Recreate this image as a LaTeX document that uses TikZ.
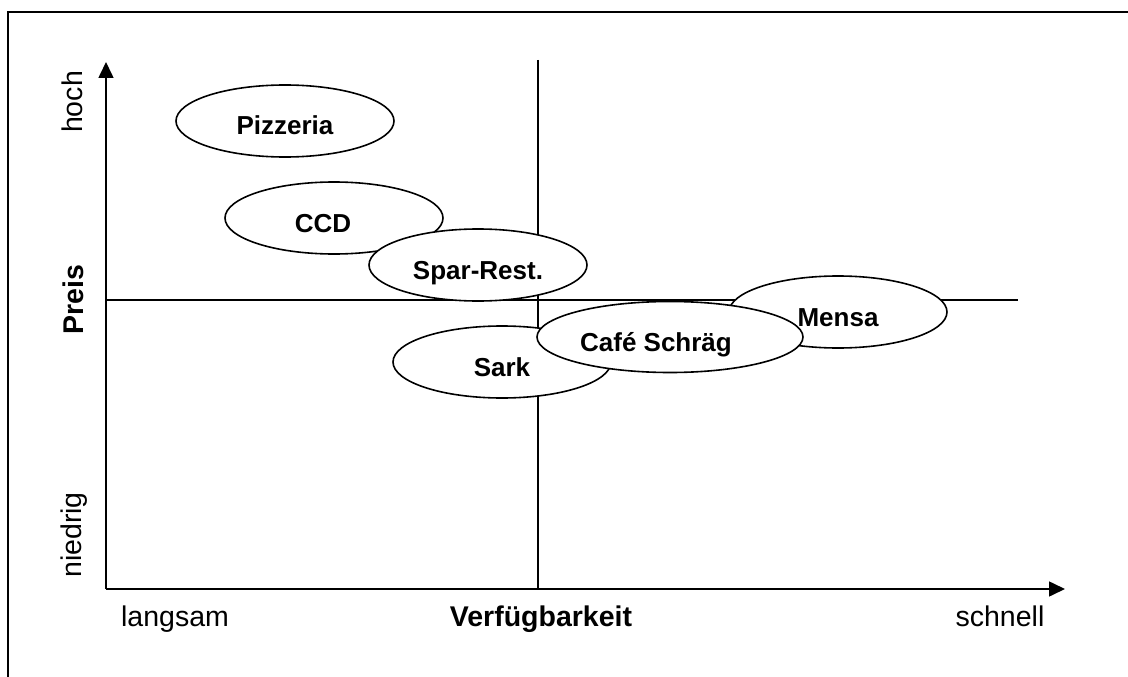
\documentclass[tikz,border=0pt]{standalone}
\usepackage{fontspec}
\setmainfont{Liberation Sans}
\usetikzlibrary{shapes.geometric,arrows.meta}

\begin{document}
\begin{tikzpicture}[x=1pt,y=-1pt,line width=1.6pt,
		blob/.style={ellipse,draw,fill=white,inner sep=0pt,minimum width=218pt,minimum height=72pt,
			font=\fontsize{26}{30}\selectfont\bfseries,text height=28pt,text depth=0pt},
		axlbl/.style={font=\fontsize{28.5}{34}\selectfont,anchor=base}]
	\useasboundingbox (0,0) rectangle (1128,677);
	% frame, only top and left edge are in the picture
	\draw (8,677) -- (8,12) -- (1128,12);
	\coordinate (o) at (106,589);
	\coordinate (ytop) at (106,62);
	\coordinate (xend) at (1065,589);
	\coordinate (midtop) at (538,60);
	\coordinate (midbot) at (538,589);
	\coordinate (hleft) at (106,300);
	\coordinate (hright) at (1018,300);
	\draw[-{Triangle[length=16pt,width=15pt]}] (o) -- (ytop);
	\draw[-{Triangle[length=16pt,width=15pt]}] (o) -- (xend);
	\draw (midtop) -- (midbot);
	\draw (hleft) -- (hright);
	% axis labels
	\node[axlbl,rotate=90] (hoch) at (82,102) {hoch};
	\node[axlbl,rotate=90,font=\fontsize{28.5}{34}\selectfont\bfseries] (preis) at (83,300) {Preis};
	\node[axlbl,rotate=90] (niedrig) at (81,535) {niedrig};
	\node[axlbl] (langsam) at (175,626) {langsam};
	\node[axlbl,font=\fontsize{28.5}{34}\selectfont\bfseries] (verf) at (541,626) {Verfügbarkeit};
	\node[axlbl] (schnell) at (1000,626) {schnell};
	% the places
	\node[blob] (pizzeria) at (285,121) {Pizzeria};
	\node[blob] (ccd) at (334,218) {CCD\hspace*{22pt}};
	\node[blob] (spar) at (478,265) {Spar-Rest.};
	\node[blob] (sark) at (502,362) {Sark};
	\node[blob] (mensa) at (838,312) {Mensa};
	\node[blob,minimum width=266pt,minimum height=71pt] (cafe) at (670,337) {Café Schräg\hspace*{28pt}};
\end{tikzpicture}
\end{document}
